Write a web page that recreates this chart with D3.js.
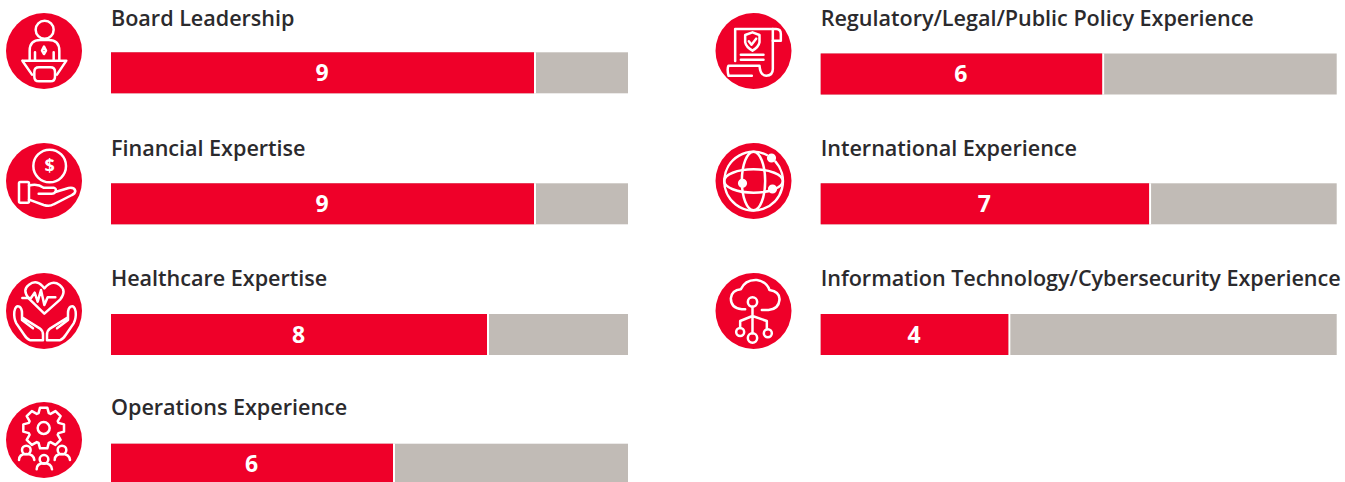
<!DOCTYPE html>
<html>
<head>
<meta charset="utf-8">
<script src="https://cdn.jsdelivr.net/npm/d3@7"></script>
<style>
  html, body { margin: 0; padding: 0; background: #fff; overflow: hidden; }
  text { font-family: "Open Sans", sans-serif; }
</style>
</head>
<body>
<svg id="chart" width="1345" height="482"></svg>
<script>
// board skills matrix, 11 directors in total
var total = 11;
var leftNames = ["Board Leadership", "Financial Expertise", "Healthcare Expertise", "Operations Experience"];
var leftValues = [9, 9, 8, 6];
var rightNames = ["Regulatory/Legal/Public Policy Experience", "International Experience", "Information Technology/Cybersecurity Experience"];
var rightValues = [6, 7, 4];

var red = "#ef0029", grey = "#c1bbb6", ink = "#2b2a2d";

var svg = d3.select("#chart");

// icons are traced at 3x, origin is the centre of the red disc
function gearPath(cx, cy, rOut, rIn, teeth) {
    var pts = [];
    for (var i = 0; i < teeth; i++) {
        var a = i / teeth * 2 * Math.PI - Math.PI / 2, w = Math.PI / teeth;
        pts.push([a - w * 0.85, rIn], [a - w * 0.45, rOut], [a + w * 0.45, rOut], [a + w * 0.85, rIn]);
    }
    return d3.line()(pts.map(function (p) {
        return [cx + p[1] * Math.cos(p[0]), cy + p[1] * Math.sin(p[0])];
    })) + "Z";
}

var iconBoard = [
    { c: [2, -64, 27] },
    "M-43 27V-1Q-43 -33 -11 -33H14Q46 -33 46 -1V27",
    "M-27 4V27M29 4V27",
    "M0 -13L6 -1L0 9L-6 -1Z",
    "M-65 29H67L39 71M-65 29L-36 71",
    "M-15 49H19Q33 49 33 63V77Q33 91 19 91H-15Q-29 91 -29 77V63Q-29 49 -15 49Z"
];
var iconMoney = [
    { c: [17, -45, 49] },
    { t: ["$", 17, -27] },
    "M-71 3H-49Q-45 3 -45 7V61Q-45 65 -49 65H-71Q-75 65 -75 61V7Q-75 3 -71 3Z",
    "M-45 14Q-21 6 -1 20H29Q39 23 34 33Q29 40 19 38H-16",
    "M34 33L74 21Q91 18 94 30Q93 38 84 42L29 70Q17 78 -1 72L-45 56"
];
var iconHealth = [
    "M1 8L-46 -38Q-66 -63 -46 -78Q-21 -98 1 -68Q24 -95 47 -78Q69 -61 49 -35Z",
    "M-65 -39H-39L-28 -55L-19 -28L-9 -63L1 -18L11 -41H34",
    "M-5 88H-41Q-51 85 -59 72L-83 37Q-91 22 -89 2Q-86 -18 -74 -13Q-66 -8 -66 7V27L-33 52M-66 19L-13 52Q-3 59 -3 72V88",
    "M11 88H47Q57 85 65 72L89 37Q97 22 95 2Q92 -18 80 -13Q72 -8 72 7V27L39 52M72 19L19 52Q9 59 9 72V88"
];
var iconOps = [
    { c: [-1, -36, 18] },
    gearPath(-1, -36, 62, 47, 8),
    { c: [-53, 30, 13] },
    { c: [0, 58, 13] },
    { c: [54, 30, 13] },
    "M-75 60Q-75 42 -53 42Q-31 42 -29 60",
    "M-22 88Q-22 70 0 70Q22 70 24 88",
    "M32 60Q32 42 54 42Q76 42 78 60"
];
var iconLegal = [
    "M-55 30V-66H58V54Q58 74 38 74Q20 74 18 44H-75Q-80 54 -75 74H-5",
    "M58 -66H68Q82 -66 82 -51V-31H58",
    "M-3 -56L18 -48V-26Q15 -11 -3 -1Q-22 -11 -25 -26V-48Z",
    "M-14 -29L-6 -19L8 -37",
    "M-38 11H30M-38 26H30"
];
var iconGlobe = [
    "M66 -58A88 88 0 1 1 40 -78",
    { e: [0, 0, 35, 88] },
    { e: [0, 0, 88, 35] },
    { c: [54, -69, 10], fill: true },
    { c: [-33, 7, 10], fill: true },
    { c: [57, 24, 10], fill: true }
];
var iconCloud = [
    "M-25 -5H-35Q-68 -8 -68 -38Q-65 -63 -38 -65Q-25 -95 10 -93Q40 -88 48 -63Q80 -58 78 -33Q75 -5 45 -3H25",
    { c: [-3, -27, 14] },
    { c: [-3, 81, 14] },
    { c: [-40, 63, 12] },
    { c: [43, 67, 12] },
    "M-3 -13V67M-3 15L-40 30V51M-3 15L40 30V55"
];

function drawIcon(cx, cy, parts) {
    var g = svg.append("g").attr("transform", "translate(" + cx + "," + cy + ")");
    g.append("circle").attr("r", 38).attr("fill", red);
    var inner = g.append("g").attr("transform", "scale(0.3333)")
        .attr("fill", "none").attr("stroke", "#fff").attr("stroke-width", 7.5)
        .attr("stroke-linejoin", "round").attr("stroke-linecap", "round");
    parts.forEach(function (p) {
        if (typeof p === "string") {
            inner.append("path").attr("d", p);
        } else if (p.c) {
            inner.append("circle").attr("cx", p.c[0]).attr("cy", p.c[1]).attr("r", p.c[2])
                .attr("fill", p.fill ? "#fff" : "none");
        } else if (p.e) {
            inner.append("ellipse").attr("cx", p.e[0]).attr("cy", p.e[1])
                .attr("rx", p.e[2]).attr("ry", p.e[3]);
        } else if (p.t) {
            inner.append("text").attr("x", p.t[1]).attr("y", p.t[2])
                .attr("text-anchor", "middle").attr("font-size", 54).attr("font-weight", 700)
                .attr("fill", "#fff").attr("stroke", "none").text(p.t[0]);
        }
    });
}

function drawColumn(names, values, x, barTops, icons, iconX, iconYs) {
    var rows = names.map(function (n, i) { return { name: n, value: values[i], top: barTops[i] }; });

    var row = svg.append("g").selectAll("g").data(rows).enter().append("g");

    row.append("rect")
        .attr("x", x(0))
        .attr("y", function (d) { return d.top; })
        .attr("width", x(total) - x(0))
        .attr("height", 41)
        .attr("fill", grey);

    // white tick between the red and the grey part
    row.append("rect")
        .attr("x", function (d) { return x(d.value); })
        .attr("y", function (d) { return d.top; })
        .attr("width", 2)
        .attr("height", 41)
        .attr("fill", "#fff");

    row.append("rect")
        .attr("x", x(0))
        .attr("y", function (d) { return d.top; })
        .attr("width", function (d) { return x(d.value) - x(0); })
        .attr("height", 41)
        .attr("fill", red);

    row.append("text")
        .attr("x", function (d) { return (x(0) + x(d.value)) / 2 - 0.5; })
        .attr("y", function (d) { return d.top + 28.5; })
        .attr("text-anchor", "middle")
        .attr("font-size", 23)
        .attr("font-weight", 700)
        .attr("fill", "#fff")
        .text(function (d) { return d.value; });

    row.append("text")
        .attr("x", x(0))
        .attr("y", function (d, i) { return iconYs[i] - 25; })
        .attr("font-size", 21.6)
        .attr("font-weight", 650)
        .attr("letter-spacing", -0.03)
        .attr("fill", ink)
        .text(function (d) { return d.name; });

    icons.forEach(function (ic, i) { drawIcon(iconX, iconYs[i], ic); });
}

var xLeft = d3.scaleLinear().domain([0, total]).range([111, 628]);
var xRight = d3.scaleLinear().domain([0, total]).range([820.7, 1336.7]);

drawColumn(leftNames, leftValues, xLeft, [52.3, 183.3, 314, 443.7],
    [iconBoard, iconMoney, iconHealth, iconOps], 44, [51, 181, 311, 440]);
drawColumn(rightNames, rightValues, xRight, [53.5, 183.3, 314],
    [iconLegal, iconGlobe, iconCloud], 753.5, [51, 181, 311]);
</script>
</body>
</html>
